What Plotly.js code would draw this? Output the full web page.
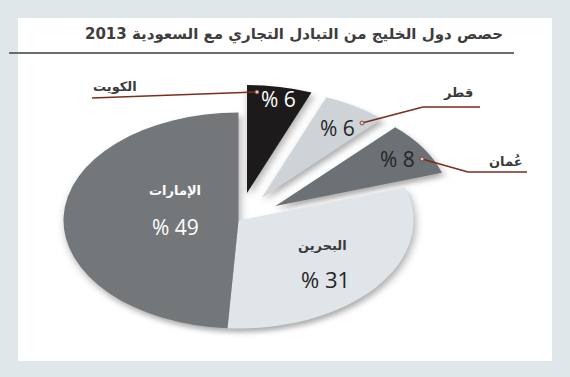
<!DOCTYPE html>
<html>
<head>
<meta charset="utf-8">
<script src="https://cdn.plot.ly/plotly-3.0.1.min.js"></script>
<style>
  html, body { margin: 0; padding: 0; width: 570px; height: 377px; overflow: hidden; background: #e0e7eb; }
  #bg, #top { position: absolute; left: 0; top: 0; width: 570px; height: 377px; }
  #bg { z-index: 0; }
  #pie { position: absolute; left: 18px; top: 0px; width: 441px; height: 441px; z-index: 1;
         transform: scaleY(0.617); transform-origin: 50% 50%;
         filter: drop-shadow(2px 6px 4px rgba(0,0,0,0.32)); }
  #top { z-index: 2; }
</style>
</head>
<body>
<div id="bg"></div>
<div id="pie"></div>
<div id="top"></div>
<script>
// ---- data ----
var countries = ['الكويت', 'قطر', 'عُمان', 'البحرين', 'الإمارات'];
var shares = [6, 6, 8, 31, 49];
var sliceColors = ['#1d1a1b', '#cdd3d7', '#6c7175', '#dfe5e8', '#73777a'];
var pulls = [0.26, 0.25, 0.25, 0, 0];
var chartTitle = 'حصص دول الخليج من التبادل التجاري مع السعودية 2013';

var arabicFont = 'DejaVu Sans, Noto Sans, sans-serif';
var numFont = 'Open Sans, DejaVu Sans, sans-serif';

// ---- background layer: panel, title, rule ----
var pxAxis = {range: [0, 570], visible: false, fixedrange: true};
var pyAxis = {range: [377, 0], visible: false, fixedrange: true};

Plotly.newPlot('bg', [], {
  width: 570, height: 377,
  margin: {l: 0, r: 0, t: 0, b: 0},
  paper_bgcolor: '#e0e7eb', plot_bgcolor: 'rgba(0,0,0,0)',
  xaxis: pxAxis, yaxis: pyAxis,
  showlegend: false,
  title: {text: '<b>' + chartTitle + '</b>', x: 294/570, y: 1 - 34/377,
          xanchor: 'center', yanchor: 'middle',
          font: {family: arabicFont, size: 15, color: '#3d3d3d'}},
  shapes: [
    {type: 'rect', xref: 'x', yref: 'y', x0: 18, x1: 552, y0: 18, y1: 361,
     fillcolor: '#ffffff', line: {width: 0}, layer: 'below'},
    {type: 'line', xref: 'x', yref: 'y', x0: 9, x1: 514, y0: 53, y1: 53,
     line: {color: '#6b6e70', width: 2}}
  ]
}, {staticPlot: true});

// ---- pie layer ----
Plotly.newPlot('pie', [{
  type: 'pie',
  labels: countries,
  values: shares,
  sort: false,
  direction: 'clockwise',
  rotation: 0,
  pull: pulls,
  marker: {colors: sliceColors, line: {width: 0}},
  textinfo: 'none',
  hoverinfo: 'skip',
  domain: {x: [0, 1], y: [0, 1]}
}], {
  width: 441, height: 441,
  margin: {l: 0, r: 0, t: 0, b: 0},
  paper_bgcolor: 'rgba(0,0,0,0)',
  showlegend: false
}, {staticPlot: true});

// ---- label layer ----
var leader = '#7b2d1e';
function pct(v) { return '% ' + v; }

var annotations = [
  // Kuwait
  {x: 115, y: 86, text: '<b>' + countries[0] + '</b>', font: {family: arabicFont, size: 13, color: '#3a3a3a'}},
  {x: 278, y: 99, text: pct(shares[0]), font: {family: numFont, size: 21, color: '#ffffff'}},
  // Qatar
  {x: 458, y: 92, text: '<b>' + countries[1] + '</b>', font: {family: arabicFont, size: 13, color: '#3a3a3a'}},
  {x: 337, y: 128, text: pct(shares[1]), font: {family: numFont, size: 21, color: '#262626'}},
  // Oman
  {x: 506, y: 161, text: '<b>' + countries[2] + '</b>', font: {family: arabicFont, size: 13, color: '#3a3a3a'}},
  {x: 397, y: 159, text: pct(shares[2]), font: {family: numFont, size: 21, color: '#262626'}},
  // Bahrain
  {x: 322, y: 245, text: '<b>' + countries[3] + '</b>', font: {family: arabicFont, size: 13, color: '#3a3a3a'}},
  {x: 325, y: 279, text: pct(shares[3]), font: {family: numFont, size: 22, color: '#262626'}},
  // Emirates
  {x: 175, y: 190, text: '<b>' + countries[4] + '</b>', font: {family: arabicFont, size: 13, color: '#ffffff'}},
  {x: 175, y: 227, text: pct(shares[4]), font: {family: numFont, size: 21, color: '#ffffff'}}
].map(function (a) {
  return Object.assign({xref: 'x', yref: 'y', showarrow: false, xanchor: 'center', yanchor: 'middle'}, a);
});

var shapes = [
  {type: 'line', x0: 92, y0: 98, x1: 257, y1: 92},
  {type: 'line', x0: 480, y0: 107, x1: 423, y1: 107},
  {type: 'line', x0: 423, y0: 107, x1: 362, y1: 123},
  {type: 'line', x0: 527, y0: 172, x1: 468, y1: 172},
  {type: 'line', x0: 468, y0: 172, x1: 422, y1: 159}
].map(function (s) {
  return Object.assign({xref: 'x', yref: 'y', line: {color: leader, width: 1.5}}, s);
});
[[257, 92], [362, 123], [422, 159]].forEach(function (p) {
  shapes.push({type: 'circle', xref: 'x', yref: 'y', x0: p[0] - 2, x1: p[0] + 2, y0: p[1] - 2, y1: p[1] + 2,
               fillcolor: '#d8d0cc', line: {color: leader, width: 0.8}});
});

Plotly.newPlot('top', [], {
  width: 570, height: 377,
  margin: {l: 0, r: 0, t: 0, b: 0},
  paper_bgcolor: 'rgba(0,0,0,0)', plot_bgcolor: 'rgba(0,0,0,0)',
  xaxis: pxAxis, yaxis: pyAxis,
  showlegend: false,
  annotations: annotations,
  shapes: shapes
}, {staticPlot: true});
</script>
</body>
</html>
